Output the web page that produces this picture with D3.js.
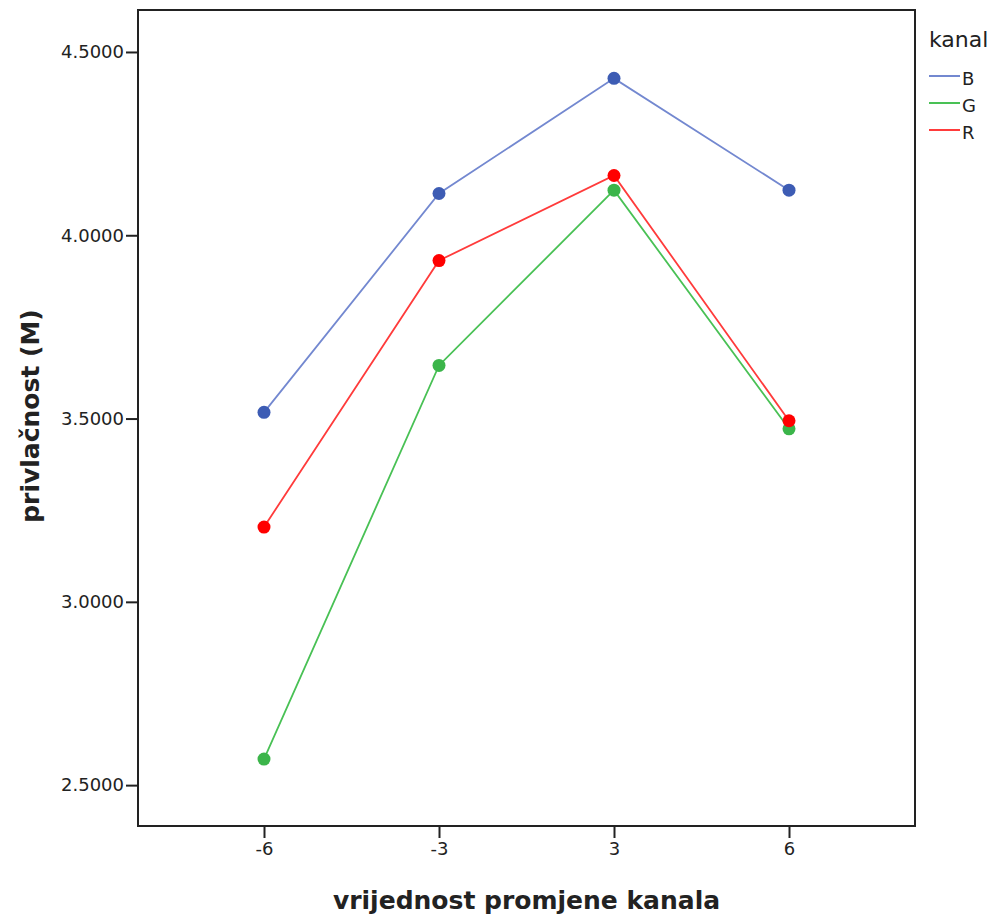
<!DOCTYPE html>
<html>
<head>
<meta charset="utf-8">
<script src="https://cdn.jsdelivr.net/npm/d3@7"></script>
<style>
  body { margin: 0; background: #fff; }
  svg { display: block; font-family: "DejaVu Sans", Verdana, sans-serif; }
</style>
</head>
<body>
<svg id="chart" width="995" height="918"></svg>
<script>
const categories = ["-6", "-3", "3", "6"];
const seriesNames = ["B", "G", "R"];
const valuesB = [3.517, 4.114, 4.428, 4.123];
const valuesG = [2.571, 3.645, 4.123, 3.472];
const valuesR = [3.204, 3.931, 4.163, 3.494];
const yTicks = [2.5, 3.0, 3.5, 4.0, 4.5];
const lineColors = { B: "#7388d0", G: "#49c155", R: "#ff3b3b" };
const dotColors = { B: "#3d5cb4", G: "#3bb54a", R: "#ff0000" };

const series = [
  { name: "B", values: valuesB },
  { name: "G", values: valuesG },
  { name: "R", values: valuesR }
];

const svg = d3.select("#chart");
const L = 138, R = 915, T = 10, B = 826;

const x = d3.scalePoint().domain(categories).range([L, R]).padding(0.72);
const y = d3.scaleLinear().domain([2.3885, 4.6145]).range([B, T]);

// frame
svg.append("rect").attr("x", L).attr("y", T).attr("width", R - L).attr("height", B - T)
  .attr("fill", "none").attr("stroke", "#222").attr("stroke-width", 2);

// y axis
const yAxis = d3.axisLeft(y).tickValues(yTicks).tickFormat(d3.format(".4f")).tickSize(12).tickPadding(2);
const gy = svg.append("g").attr("transform", `translate(${L},0)`).call(yAxis);
gy.select(".domain").remove();
gy.selectAll(".tick line").attr("stroke", "#222").attr("stroke-width", 2);
gy.selectAll(".tick text").attr("fill", "#222").style("font-family", "'DejaVu Sans', sans-serif").style("font-size", "18px");

// x axis
const xAxis = d3.axisBottom(x).tickSize(12).tickPadding(4);
const gx = svg.append("g").attr("transform", `translate(0,${B})`).call(xAxis);
gx.select(".domain").remove();
gx.selectAll(".tick line").attr("stroke", "#222").attr("stroke-width", 2);
gx.selectAll(".tick text").attr("fill", "#222").style("font-family", "'DejaVu Sans', sans-serif").style("font-size", "18px");

// axis titles
svg.append("text").attr("x", (L + R) / 2).attr("y", 909).attr("text-anchor", "middle")
  .style("font-size", "25px").style("font-weight", "bold").attr("fill", "#222")
  .text("vrijednost promjene kanala");
svg.append("text").attr("transform", `translate(39,${(T + B) / 2 - 2}) rotate(-90)`)
  .attr("text-anchor", "middle")
  .style("font-size", "25px").style("font-weight", "bold").attr("fill", "#222")
  .text("privlačnost (M)");

// lines and dots
const line = d3.line().x((d, i) => x(categories[i])).y(d => y(d));
series.forEach(s => {
  svg.append("path").datum(s.values).attr("d", line)
    .attr("fill", "none").attr("stroke", lineColors[s.name]).attr("stroke-width", 1.8);
});
series.forEach(s => {
  svg.selectAll(null).data(s.values).enter().append("circle")
    .attr("cx", (d, i) => x(categories[i])).attr("cy", d => y(d)).attr("r", 6.5)
    .attr("fill", dotColors[s.name]);
});

// legend
svg.append("text").attr("x", 929).attr("y", 47).style("font-size", "22px").attr("fill", "#222").text("kanal");
seriesNames.forEach((n, i) => {
  const yy = 76 + i * 27;
  svg.append("line").attr("x1", 929).attr("x2", 960).attr("y1", yy).attr("y2", yy)
    .attr("stroke", lineColors[n]).attr("stroke-width", 2);
  svg.append("text").attr("x", 962).attr("y", yy + 9).style("font-size", "18px").attr("fill", "#222").text(n);
});
</script>
</body>
</html>
